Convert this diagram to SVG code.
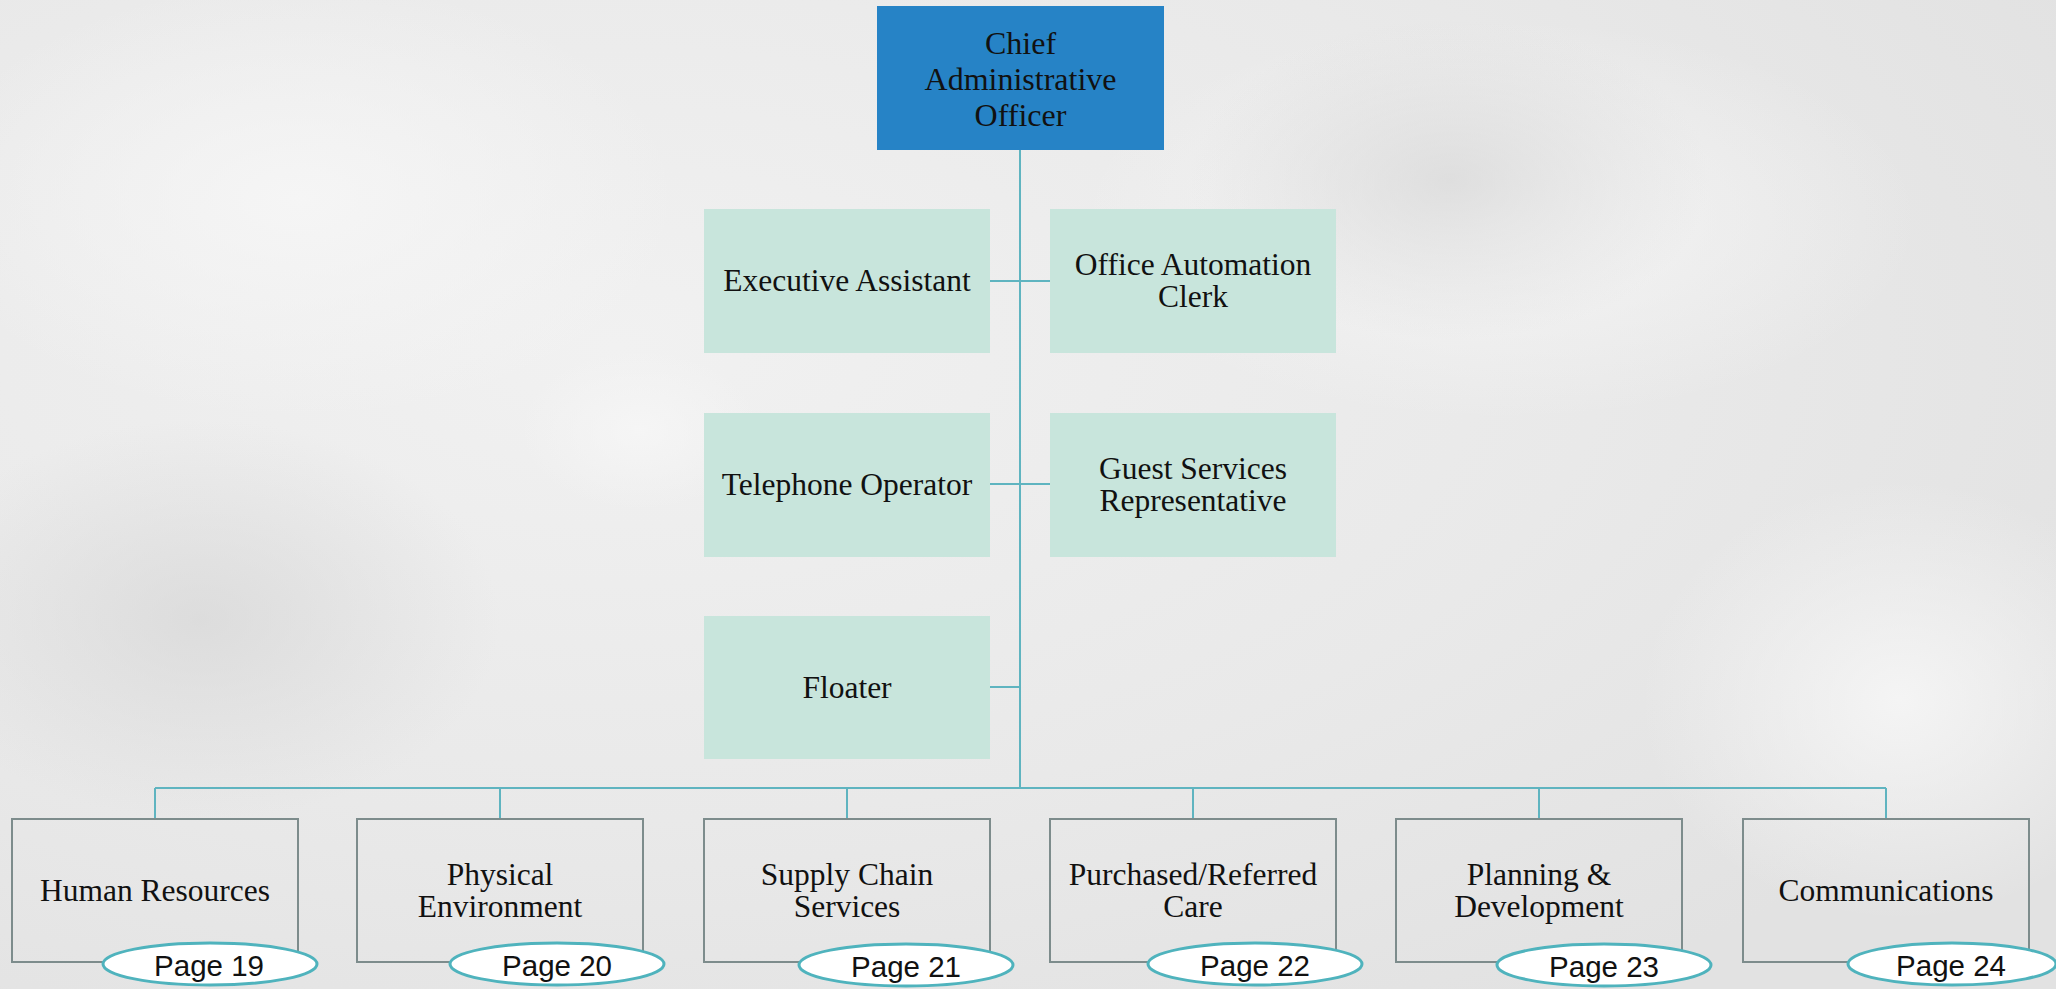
<svg xmlns="http://www.w3.org/2000/svg" width="2056" height="989" viewBox="0 0 2056 989">
<defs>
<radialGradient id="bg1" cx="0.3" cy="0.35" r="0.8">
<stop offset="0" stop-color="#f1f1f1"/>
<stop offset="0.6" stop-color="#e9e9e9"/>
<stop offset="1" stop-color="#e2e2e2"/>
</radialGradient>
<radialGradient id="patch" cx="0.5" cy="0.5" r="0.5">
<stop offset="0" stop-color="#f6f6f6" stop-opacity="0.9"/>
<stop offset="1" stop-color="#f6f6f6" stop-opacity="0"/>
</radialGradient>
<radialGradient id="dark" cx="0.5" cy="0.5" r="0.5">
<stop offset="0" stop-color="#d6d6d6" stop-opacity="0.7"/>
<stop offset="1" stop-color="#d6d6d6" stop-opacity="0"/>
</radialGradient>
</defs>
<style>
.top{fill:#2683c6;}
.mid{fill:#c8e5dc;}
.dept{fill:none;stroke:#7d8c8c;stroke-width:2;}
.lbl{font-family:"Liberation Serif","Times New Roman",serif;font-size:31.5px;fill:#111;text-anchor:middle;}
.cao{font-size:32px;}
.pg{fill:#ffffff;stroke:#4fb3bd;stroke-width:3;}
.pgt{font-family:"Liberation Sans",Arial,sans-serif;font-size:29.5px;fill:#111;text-anchor:middle;}
.con{fill:none;stroke:#5fb4c0;stroke-width:2;}
</style>
<rect x="0" y="0" width="2056" height="989" fill="url(#bg1)"/>
<ellipse cx="300" cy="200" rx="380" ry="220" fill="url(#patch)"/>
<ellipse cx="640" cy="430" rx="120" ry="80" fill="url(#patch)"/>
<ellipse cx="1500" cy="220" rx="420" ry="200" fill="url(#patch)"/>
<ellipse cx="1450" cy="180" rx="260" ry="160" fill="url(#dark)"/>
<ellipse cx="200" cy="620" rx="300" ry="200" fill="url(#dark)"/>
<ellipse cx="1900" cy="700" rx="260" ry="220" fill="url(#patch)"/>

<g id="connectors">
<path class="con" d="M1020,150 V788"/>
<path class="con" d="M990,281 H1050"/>
<path class="con" d="M990,484 H1050"/>
<path class="con" d="M990,687 H1020"/>
<path class="con" d="M155,788 H1886"/>
<path class="con" d="M155,788 V819 M500,788 V819 M847,788 V819 M1193,788 V819 M1539,788 V819 M1886,788 V819"/>
</g>

<g id="cao">
<rect class="top" x="877" y="6" width="287" height="144"/>
<text class="lbl cao" x="1020.5" y="54">Chief</text>
<text class="lbl cao" x="1020.5" y="90">Administrative</text>
<text class="lbl cao" x="1020.5" y="126">Officer</text>
</g>

<g id="exec-assistant">
<rect class="mid" x="704" y="209" width="286" height="144"/>
<text class="lbl" x="847" y="291">Executive Assistant</text>
</g>
<g id="office-automation-clerk">
<rect class="mid" x="1050" y="209" width="286" height="144"/>
<text class="lbl" x="1193" y="275">Office Automation</text>
<text class="lbl" x="1193" y="307">Clerk</text>
</g>
<g id="telephone-operator">
<rect class="mid" x="704" y="413" width="286" height="144"/>
<text class="lbl" x="847" y="495">Telephone Operator</text>
</g>
<g id="guest-services">
<rect class="mid" x="1050" y="413" width="286" height="144"/>
<text class="lbl" x="1193" y="479">Guest Services</text>
<text class="lbl" x="1193" y="511">Representative</text>
</g>
<g id="floater">
<rect class="mid" x="704" y="616" width="286" height="143"/>
<text class="lbl" x="847" y="698">Floater</text>
</g>

<g id="human-resources">
<rect class="dept" x="12" y="819" width="286" height="143"/>
<text class="lbl" x="155" y="901">Human Resources</text>
<ellipse class="pg" cx="210" cy="964" rx="107" ry="21"/>
<text class="pgt" x="209" y="976">Page 19</text>
</g>
<g id="physical-environment">
<rect class="dept" x="357" y="819" width="286" height="143"/>
<text class="lbl" x="500" y="885">Physical</text>
<text class="lbl" x="500" y="917">Environment</text>
<ellipse class="pg" cx="557" cy="964" rx="107" ry="21"/>
<text class="pgt" x="557" y="976">Page 20</text>
</g>
<g id="supply-chain">
<rect class="dept" x="704" y="819" width="286" height="143"/>
<text class="lbl" x="847" y="885">Supply Chain</text>
<text class="lbl" x="847" y="917">Services</text>
<ellipse class="pg" cx="906" cy="965" rx="107" ry="21"/>
<text class="pgt" x="906" y="977">Page 21</text>
</g>
<g id="purchased-referred-care">
<rect class="dept" x="1050" y="819" width="286" height="143"/>
<text class="lbl" x="1193" y="885">Purchased/Referred</text>
<text class="lbl" x="1193" y="917">Care</text>
<ellipse class="pg" cx="1255" cy="964" rx="107" ry="21"/>
<text class="pgt" x="1255" y="976">Page 22</text>
</g>
<g id="planning-development">
<rect class="dept" x="1396" y="819" width="286" height="143"/>
<text class="lbl" x="1539" y="885">Planning &amp;</text>
<text class="lbl" x="1539" y="917">Development</text>
<ellipse class="pg" cx="1604" cy="965" rx="107" ry="21"/>
<text class="pgt" x="1604" y="977">Page 23</text>
</g>
<g id="communications">
<rect class="dept" x="1743" y="819" width="286" height="143"/>
<text class="lbl" x="1886" y="901">Communications</text>
<ellipse class="pg" cx="1952" cy="964" rx="104" ry="21"/>
<text class="pgt" x="1951" y="976">Page 24</text>
</g>
</svg>
